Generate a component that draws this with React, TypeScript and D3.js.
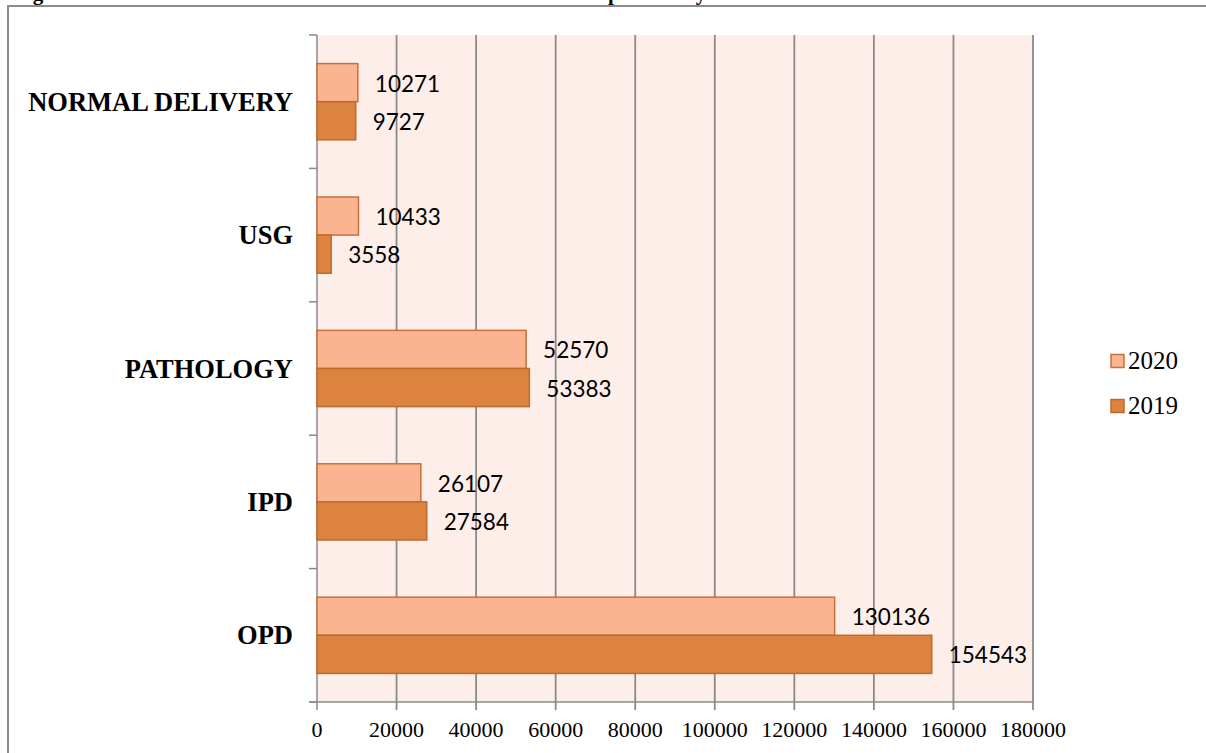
import React from "react";
import * as d3 from "d3";

const categories = ["NORMAL DELIVERY", "USG", "PATHOLOGY", "IPD", "OPD"];
const series2020 = [10271, 10433, 52570, 26107, 130136];
const series2019 = [9727, 3558, 53383, 27584, 154543];
const seriesNames = ["2020", "2019"];
const xTicks = [0, 20000, 40000, 60000, 80000, 100000, 120000, 140000, 160000, 180000];

const W = 1206;
const H = 753;
const left = 317;
const right = 1033;
const top = 35;
const bottom = 702;

const fill2020 = "#FAB590";
const fill2019 = "#DC843F";
const stroke2020 = "#C8703A";
const stroke2019 = "#BE6A2E";
const gridColor = "#8A8A8A";

export default function App() {
  const x = d3.scaleLinear().domain([0, 180000]).range([left, right]);
  const y = d3.scaleBand().domain(categories).range([top, bottom]).paddingInner(0).paddingOuter(0);
  const band = y.bandwidth();
  const barH = band / 3.5;
  const serif = "'Liberation Serif', 'Times New Roman', serif";
  const sans = "Lato, 'Open Sans', sans-serif";

  const rows = categories.map((c, i) => ({ c, v20: series2020[i], v19: series2019[i] }));

  return (
    <svg width={W} height={H} style={{ position: "absolute", left: 0, top: 0 }}>
      <rect x={0} y={0} width={W} height={H} fill="#fff" />
      {/* title, clipped by the page top as in the reference */}
      <g fontFamily={serif} fontWeight="bold" fontSize={21} fill="#000">
        <text x={14} y={-0.5}>Figure 1:</text>
        <text x={573} y={-0.5}>Hospital</text>
        <text x={684} y={-0.5}>by</text>
      </g>
      {/* frame */}
      <rect x={8} y={6} width={W + 20} height={H + 20} fill="none" stroke="#8C8C8C" strokeWidth={2} />
      {/* plot background */}
      <rect x={left} y={top} width={right - left} height={bottom - top} fill="#FDEEE9" />
      {/* gridlines & x ticks */}
      {xTicks.map((t) => (
        <line key={"g" + t} x1={x(t)} x2={x(t)} y1={top} y2={bottom + 8} stroke={gridColor} strokeWidth={t === 0 ? 1.5 : 1.8} />
      ))}
      {/* y axis ticks */}
      {d3.range(categories.length + 1).map((i) => (
        <line key={"yt" + i} x1={left - 8} x2={left} y1={top + i * band} y2={top + i * band} stroke={gridColor} strokeWidth={1.5} />
      ))}
      <line x1={left - 8} x2={right} y1={bottom} y2={bottom} stroke={gridColor} strokeWidth={1.5} />
      {/* bars */}
      {rows.map((r) => {
        const cy = (y(r.c) as number) + band / 2;
        return (
          <g key={r.c}>
            <rect x={x(0)} y={cy - barH} width={x(r.v20) - x(0)} height={barH} fill={fill2020} stroke={stroke2020} strokeWidth={1.5} />
            <rect x={x(0)} y={cy} width={x(r.v19) - x(0)} height={barH} fill={fill2019} stroke={stroke2019} strokeWidth={1.5} />
            <text x={x(r.v20) + 17} y={cy - barH / 2 + 9} fontFamily={sans} fontSize={22.5} fill="#000">{r.v20}</text>
            <text x={x(r.v19) + 17} y={cy + barH / 2 + 9} fontFamily={sans} fontSize={22.5} fill="#000">{r.v19}</text>
            <text x={293} y={cy + 9} textAnchor="end" fontFamily={serif} fontWeight="bold" fontSize={26.5} fill="#000">{r.c}</text>
          </g>
        );
      })}
      {/* x tick labels */}
      {xTicks.map((t) => (
        <text key={"l" + t} x={x(t)} y={737} textAnchor="middle" fontFamily={serif} fontSize={22} fill="#000">{t}</text>
      ))}
      {/* legend */}
      {seriesNames.map((s, i) => {
        const cy = 361 + i * 45;
        return (
          <g key={s}>
            <rect x={1111} y={cy - 6.5} width={13} height={13} fill={i === 0 ? fill2020 : fill2019} stroke={i === 0 ? stroke2020 : stroke2019} strokeWidth={1.5} />
            <text x={1128} y={cy + 8} fontFamily={serif} fontSize={25} fill="#000">{s}</text>
          </g>
        );
      })}
    </svg>
  );
}
